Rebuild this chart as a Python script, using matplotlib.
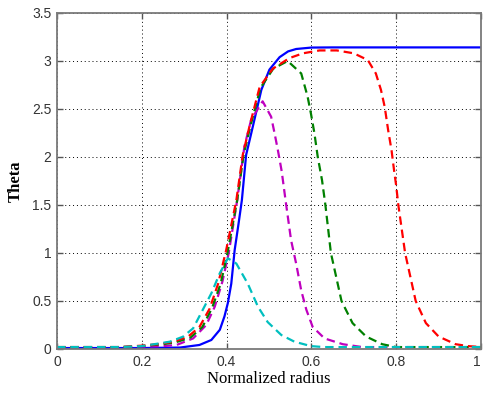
import matplotlib
matplotlib.use("Agg")
import matplotlib.pyplot as plt

# ---- data ----
blue_r = [0, 0.2, 0.29, 0.336, 0.364, 0.384, 0.395, 0.403, 0.411, 0.419, 0.428, 0.436,
          0.446, 0.462, 0.482, 0.501, 0.525, 0.545, 0.564, 0.60, 0.65, 1.0]
blue_t = [0.01, 0.01, 0.015, 0.042, 0.094, 0.2, 0.34, 0.48, 0.68, 1.03, 1.3, 1.55,
          2.02, 2.32, 2.70, 2.91, 3.04, 3.10, 3.125, 3.14, 3.1416, 3.1416]

cyan_r = [0, 0.15, 0.2, 0.242, 0.266, 0.297, 0.321, 0.344, 0.364, 0.384, 0.403, 0.423,
          0.45, 0.474, 0.497, 0.529, 0.56, 0.599, 0.63, 1.0]
cyan_t = [0.02, 0.02, 0.03, 0.059, 0.076, 0.128, 0.215, 0.41, 0.58, 0.79, 0.945, 0.89,
          0.68, 0.44, 0.28, 0.146, 0.076, 0.03, 0.02, 0.02]

red_r = [0, 0.15, 0.2, 0.242, 0.274, 0.309, 0.336, 0.36, 0.38, 0.399, 0.423, 0.438,
         0.454, 0.478, 0.509, 0.548, 0.58, 0.619, 0.66, 0.70, 0.733, 0.752, 0.764, 0.773,
         0.781, 0.789, 0.795, 0.80, 0.805, 0.821, 0.846, 0.87, 0.90, 0.94, 0.97, 1.0]
red_t = [0.02, 0.02, 0.035, 0.052, 0.076, 0.128, 0.23, 0.42, 0.68, 1.03, 1.55, 2.02,
         2.32, 2.73, 2.92, 3.03, 3.08, 3.11, 3.11, 3.08, 3.01, 2.87, 2.70, 2.52,
         2.28, 2.07, 1.86, 1.70, 1.5, 1.0, 0.5, 0.27, 0.13, 0.05, 0.03, 0.02]

green_r = [0, 0.15, 0.2, 0.25, 0.28, 0.315, 0.343, 0.366, 0.386, 0.402, 0.425, 0.44,
           0.456, 0.48, 0.51, 0.544, 0.576, 0.591, 0.599, 0.607, 0.615, 0.625, 0.633,
           0.646, 0.671, 0.697, 0.729, 0.767, 0.80, 1.0]
green_t = [0.02, 0.02, 0.03, 0.05, 0.07, 0.12, 0.23, 0.43, 0.68, 1.0, 1.55, 2.02,
           2.32, 2.72, 2.92, 3.00, 2.87, 2.63, 2.45, 2.25, 2.0, 1.76, 1.5,
           1.0, 0.5, 0.27, 0.13, 0.05, 0.02, 0.02]

mag_r = [0, 0.15, 0.2, 0.25, 0.282, 0.321, 0.352, 0.372, 0.39, 0.405, 0.425, 0.442,
         0.458, 0.485, 0.505, 0.513, 0.521, 0.53, 0.539, 0.552, 0.564, 0.576, 0.588,
         0.603, 0.631, 0.674, 0.72, 1.0]
mag_t = [0.02, 0.02, 0.025, 0.03, 0.042, 0.11, 0.25, 0.44, 0.7, 1.0, 1.55, 2.11,
         2.39, 2.58, 2.42, 2.25, 2.07, 1.85, 1.55, 1.135, 0.89, 0.61, 0.41,
         0.23, 0.11, 0.05, 0.02, 0.02]

x_ticks = [0, 0.2, 0.4, 0.6, 0.8, 1]
x_labels = ["0", "0.2", "0.4", "0.6", "0.8", "1"]
y_ticks = [0, 0.5, 1, 1.5, 2, 2.5, 3, 3.5]
y_labels = ["0", "0.5", "1", "1.5", "2", "2.5", "3", "3.5"]

# ---- figure ----
fig = plt.figure(figsize=(4.83, 3.93), dpi=100)
ax = fig.add_axes([57 / 483, 44 / 393, 424 / 483, 336 / 393])

lw = 1.6
dash = (3.8, 2.2)
ax.plot(blue_r, blue_t, color=(0, 0, 1), lw=lw, solid_joinstyle="round")
ax.plot(mag_r, mag_t, color=(0.75, 0, 0.75), lw=lw, dashes=dash)
ax.plot(green_r, green_t, color=(0, 0.5, 0), lw=lw, dashes=dash)
ax.plot(red_r, red_t, color=(1, 0, 0), lw=lw, dashes=dash)
ax.plot(cyan_r, cyan_t, color=(0, 0.75, 0.75), lw=lw, dashes=dash)

ax.set_xlim(0, 1)
ax.set_ylim(0, 3.5)
ax.set_xticks(x_ticks)
ax.set_xticklabels(x_labels)
ax.set_yticks(y_ticks)
ax.set_yticklabels(y_labels)

ax.grid(True, color="black", linestyle=(0, (1, 3)), linewidth=0.7)
for s in ax.spines.values():
    s.set_color("#7a7a7a")
    s.set_linewidth(1.3)
ax.tick_params(direction="in", length=4, width=1, color="#555555",
               top=True, right=True, labelsize=10, labelcolor="#333333", pad=4)
for lab in ax.get_xticklabels() + ax.get_yticklabels():
    lab.set_fontfamily("Liberation Sans")
ax.get_xticklabels()[-1].set_horizontalalignment("right")

ax.set_xlabel("Normalized radius", fontfamily="Liberation Serif", fontsize=12,
              labelpad=2)
ax.set_ylabel("Theta", fontfamily="Liberation Serif", fontsize=12,
              fontweight="bold", labelpad=6)

fig.savefig("out.png", dpi=100)
